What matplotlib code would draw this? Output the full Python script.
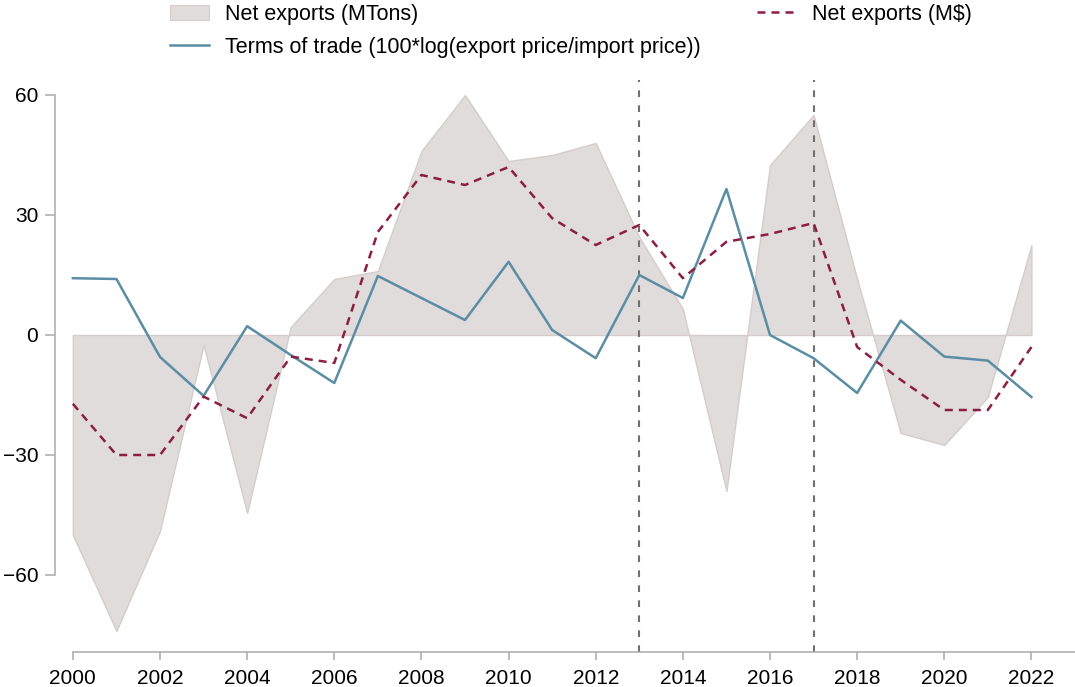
import matplotlib
matplotlib.use("Agg")
import matplotlib.pyplot as plt
from matplotlib.patches import Patch
from matplotlib.lines import Line2D

plt.rcParams['font.family'] = ['Liberation Sans', 'DejaVu Sans']

# data
years = list(range(2000, 2023))
net_mtons = [-50, -74, -49, -2.5, -44.5, 2, 14, 16, 46, 60, 43.5, 45, 48,
             24.5, 6.5, -39, 42.5, 55, 14, -24.5, -27.5, -15.5, 22.5]
terms_of_trade = [14.2, 14, -5.5, -15.2, 2.2, -5, -12, 14.75, 9.25, 3.75, 18.3,
                  1.25, -5.8, 15, 9.25, 36.5, 0, -5.8, -14.5, 3.6, -5.4, -6.4, -15.5]
net_musd = [-17.2, -30, -30, -15.4, -20.8, -5.4, -7, 25.75, 40, 37.5, 42, 29.2,
            22.5, 27.5, 14.2, 23.3, 25.25, 28, -3, -11.2, -18.75, -18.75, -3]
event_years = [2013, 2017]
yticks = [-60, -30, 0, 30, 60]
xticks = list(range(2000, 2023, 2))

fill_col = '#e0dcdc'
edge_col = '#d6cccc'
blue = '#5b8da3'
red = '#8b1f41'
spine_col = '#aaaaaa'

fig = plt.figure(figsize=(10.75, 6.87), dpi=100)
ax = fig.add_axes([55 / 1075, 35 / 687, 1020 / 1075, 572 / 687])

ax.fill_between(years, 0, net_mtons, facecolor=fill_col, edgecolor=edge_col,
                linewidth=1, zorder=1)
for yr in event_years:
    ax.axvline(yr, color='#707070', lw=1.5, linestyle=(0, (3.2, 4)), zorder=2)
ax.plot(years, terms_of_trade, color=blue, lw=1.8, zorder=3)
ax.plot(years, net_musd, color=red, lw=1.8, linestyle=(0, (3.2, 2.4)), zorder=3)

ax.set_xlim(1999.59, 2023)
ax.set_ylim(-79.25, 63.75)
ax.set_xticks(xticks)
ax.set_yticks(yticks)
ax.yaxis.set_major_formatter(plt.FuncFormatter(lambda v, p: f"{int(v)}".replace('-', '\u2212')))

for s in ['top', 'right']:
    ax.spines[s].set_visible(False)
ax.spines['left'].set_bounds(-60, 60)
ax.spines['bottom'].set_bounds(2000, 2023)
for s in ['left', 'bottom']:
    ax.spines[s].set_color(spine_col)
    ax.spines[s].set_linewidth(1.1)
ax.tick_params(axis='both', colors=spine_col, width=1.1, labelcolor='black',
               labelsize=15)
ax.tick_params(axis='y', length=7, pad=5)
ax.tick_params(axis='x', length=6, pad=6)

h1 = [Patch(facecolor=fill_col, edgecolor=edge_col, lw=0.8),
      Line2D([], [], color=blue, lw=1.8)]
fig.legend(h1, ['Net exports (MTons)',
                'Terms of trade (100*log(export price/import price))'],
           loc='upper left', bbox_to_anchor=(170 / 1075, 1 - 4 / 687),
           frameon=False, fontsize=15.5, borderpad=0, borderaxespad=0,
           handlelength=1.8, handleheight=0.75, handletextpad=0.75,
           labelspacing=0.55)
h2 = [Line2D([], [], color=red, lw=1.8, linestyle=(0, (3.2, 2.4)))]
fig.legend(h2, ['Net exports (M$)'], loc='upper left',
           bbox_to_anchor=(757 / 1075, 1 - 4 / 687), frameon=False, fontsize=15.5,
           borderpad=0, borderaxespad=0, handlelength=1.85, handletextpad=0.7)

fig.savefig('out.png', dpi=100)
